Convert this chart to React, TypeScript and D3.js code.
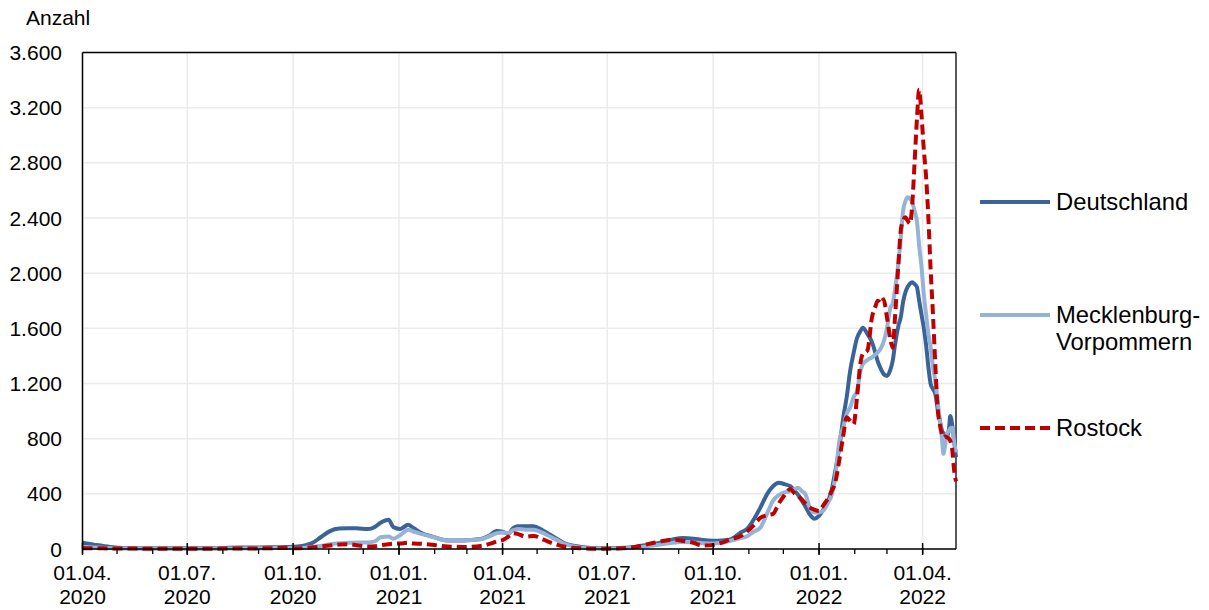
import React from "react";
import * as d3 from "d3";

const dates = [
  "2020-04-01","2020-04-12","2020-04-25","2020-05-15","2020-06-15","2020-07-15","2020-08-15","2020-09-10","2020-09-25",
  "2020-10-05","2020-10-12","2020-10-18","2020-10-25","2020-11-02","2020-11-10","2020-11-17","2020-11-25","2020-12-05",
  "2020-12-11","2020-12-16","2020-12-23","2020-12-27","2021-01-02","2021-01-09","2021-01-14","2021-01-20","2021-01-30",
  "2021-02-12","2021-02-25","2021-03-13","2021-03-20","2021-03-27","2021-04-01","2021-04-06","2021-04-10","2021-04-14",
  "2021-04-21","2021-04-28","2021-05-05","2021-05-10","2021-05-17","2021-05-24","2021-06-08","2021-06-25","2021-07-10",
  "2021-07-25","2021-08-05","2021-08-16","2021-08-27","2021-09-05","2021-09-14","2021-09-22",
  "2021-10-01","2021-10-08","2021-10-16","2021-10-25","2021-10-31","2021-11-05","2021-11-11","2021-11-17","2021-11-22",
  "2021-11-27","2021-12-02","2021-12-07","2021-12-11","2021-12-14","2021-12-17","2021-12-20","2021-12-24","2021-12-28",
  "2022-01-01","2022-01-05","2022-01-09","2022-01-12","2022-01-15","2022-01-19","2022-01-22","2022-01-25","2022-01-28",
  "2022-01-31","2022-02-03","2022-02-06","2022-02-08","2022-02-12","2022-02-16","2022-02-19","2022-02-21","2022-02-24",
  "2022-02-26","2022-03-01","2022-03-04","2022-03-06","2022-03-08","2022-03-11","2022-03-13","2022-03-15","2022-03-17",
  "2022-03-19","2022-03-21","2022-03-23","2022-03-25","2022-03-27","2022-03-29","2022-03-31","2022-04-02","2022-04-04",
  "2022-04-06","2022-04-08","2022-04-10","2022-04-12","2022-04-14","2022-04-16","2022-04-18","2022-04-19","2022-04-21",
  "2022-04-22","2022-04-24","2022-04-25","2022-04-27","2022-04-28","2022-04-30"
];

const deutschland = [
  45,30,15,6,5,5,10,12,14,
  18,28,45,85,130,148,150,150,145,
  160,190,212,160,145,175,150,118,90,
  62,62,72,95,130,125,110,150,165,
  165,165,140,115,80,45,15,6,7,
  15,30,45,70,80,75,65,
  60,62,70,120,150,210,300,400,455,
  480,470,455,420,390,350,310,250,220,
  240,290,350,430,560,760,950,1100,1290,
  1420,1530,1580,1605,1560,1500,1420,1360,1300,
  1270,1255,1300,1365,1480,1620,1680,1790,1860,
  1900,1925,1935,1920,1900,1800,1700,1605,1480,
  1320,1195,1160,1125,1020,930,855,840,815,
  810,880,965,880,810,665
];

const mecklenburgVorpommern = [
  15,10,6,3,2,2,4,6,8,
  8,10,15,22,35,42,45,48,48,
  55,85,90,75,100,140,125,110,88,
  62,62,70,90,115,120,115,135,145,
  140,140,120,100,70,40,10,3,4,
  10,20,32,45,50,48,42,
  40,45,60,80,95,125,155,260,350,
  390,410,420,435,445,420,400,300,265,
  265,280,340,390,520,800,880,980,1025,
  1100,1145,1290,1340,1370,1390,1410,1425,1460,
  1500,1600,1750,1780,1880,2080,2250,2450,2520,
  2550,2540,2515,2450,2380,2200,2050,1850,1700,
  1560,1460,1320,1220,1080,930,780,690,780,
  835,860,875,880,800,700
];

const rostock = [
  5,5,4,3,2,2,4,5,8,
  5,8,12,18,25,32,35,28,18,
  20,28,35,38,40,45,40,38,30,
  18,15,22,35,55,65,90,115,110,
  90,95,75,55,35,18,5,2,4,
  15,35,55,68,58,45,25,
  30,45,70,95,130,170,225,245,255,
  330,390,435,400,380,360,330,300,285,
  275,320,370,420,480,665,820,955,930,
  905,1100,1350,1415,1440,1680,1760,1800,1780,
  1810,1680,1520,1460,1680,2070,2310,2380,2405,
  2380,2360,2500,2800,3110,3330,3150,2900,2700,
  2400,2020,1700,1340,1025,900,830,810,815,
  810,800,785,700,600,490
];

const yTicks = [0, 400, 800, 1200, 1600, 2000, 2400, 2800, 3200, 3600];
const seriesNames = ["Deutschland", "Mecklenburg-\nVorpommern", "Rostock"];

const W = 1209, H = 610;
const left = 82.5, right = 956, top = 52.5, bottom = 549;
const FONT = "'Liberation Sans', Arial, sans-serif";

export default function App() {
  const parse = d3.timeParse("%Y-%m-%d");
  const ds = dates.map((d) => parse(d) as Date);
  const x = d3.scaleTime().domain([parse("2020-04-01") as Date, parse("2022-04-30") as Date]).range([left, right]);
  const y = d3.scaleLinear().domain([0, 3600]).range([bottom, top]);
  const de = d3.formatLocale({ decimal: ",", thousands: ".", grouping: [3], currency: ["", "€"] }).format(",");
  const fmtDay = d3.timeFormat("%d.%m.");
  const fmtYear = d3.timeFormat("%Y");

  const majorTicks = d3.timeMonth.every(3)!.range(x.domain()[0], d3.timeDay.offset(x.domain()[1], 1));
  const minorTicks = d3.timeMonth.range(x.domain()[0], d3.timeDay.offset(x.domain()[1], 1));

  const line = d3
    .line<number>()
    .x((_, i) => x(ds[i]))
    .y((v) => y(v))
    .curve(d3.curveMonotoneX);

  const series = [
    { name: seriesNames[0], values: deutschland, color: "#3a6397", dash: undefined as string | undefined, ly: 202 },
    { name: seriesNames[1], values: mecklenburgVorpommern, color: "#95b3d7", dash: undefined, ly: 315 },
    { name: seriesNames[2], values: rostock, color: "#c00000", dash: "10 5", ly: 428 },
  ];

  return (
    <svg width={W} height={H} style={{ position: "absolute", left: 0, top: 0 }} fontFamily={FONT}>
      <rect x={0} y={0} width={W} height={H} fill="#fff" />
      {yTicks.map((t) => (
        <line key={"gy" + t} x1={left} x2={right} y1={y(t)} y2={y(t)} stroke="#ebebeb" strokeWidth={1.5} />
      ))}
      {majorTicks.map((t) => (
        <line key={"gx" + t.getTime()} x1={x(t)} x2={x(t)} y1={top} y2={bottom} stroke="#ebebeb" strokeWidth={1.5} />
      ))}
      <line x1={left} x2={right} y1={top} y2={top} stroke="#000" strokeWidth={1.3} />
      <line x1={right} x2={right} y1={top} y2={bottom} stroke="#000" strokeWidth={1.3} />
      {series.map((s) => (
        <path
          key={s.name}
          d={line(s.values) || ""}
          fill="none"
          stroke={s.color}
          strokeWidth={4}
          strokeDasharray={s.dash}
          strokeLinejoin="round"
        />
      ))}
      <line x1={left} x2={left} y1={top} y2={bottom} stroke="#000" strokeWidth={1.5} />
      <line x1={left} x2={right} y1={bottom} y2={bottom} stroke="#000" strokeWidth={1.5} />
      {minorTicks.map((t) => (
        <line key={"mt" + t.getTime()} x1={x(t)} x2={x(t)} y1={bottom} y2={bottom + 5} stroke="#000" strokeWidth={1.3} />
      ))}
      {majorTicks.map((t) => (
        <g key={"xt" + t.getTime()}>
          <line x1={x(t)} x2={x(t)} y1={bottom - 6} y2={bottom + 6} stroke="#000" strokeWidth={1.5} />
          <text x={x(t)} y={580} textAnchor="middle" fontSize={21} fill="#000">{fmtDay(t)}</text>
          <text x={x(t)} y={604} textAnchor="middle" fontSize={21} fill="#000">{fmtYear(t)}</text>
        </g>
      ))}
      {yTicks.map((t) => (
        <text key={"yl" + t} x={62} y={y(t) + 7.5} textAnchor="end" fontSize={21} fill="#000">{de(t)}</text>
      ))}
      <text x={26} y={25} fontSize={21} fill="#000">Anzahl</text>
      {series.map((s) => {
        const lines = s.name.split("\n");
        return (
          <g key={"lg" + s.name}>
            <line x1={980} x2={1050} y1={s.ly} y2={s.ly} stroke={s.color} strokeWidth={4} strokeDasharray={s.dash} />
            {lines.map((l, i) => (
              <text key={i} x={1056} y={s.ly + 8 + i * 27} fontSize={23.8} fill="#000">{l}</text>
            ))}
          </g>
        );
      })}
    </svg>
  );
}
